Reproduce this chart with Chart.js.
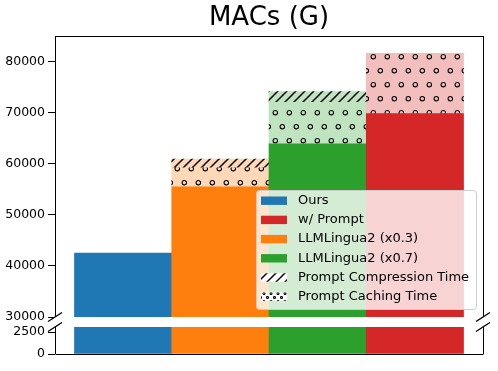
<!DOCTYPE html>
<html>
<head>
<meta charset="utf-8">
<script src="https://cdn.jsdelivr.net/npm/chart.js@4"></script>
<style>
  body { margin: 0; background: #fff; }
  #wrap { position: relative; width: 498px; height: 371px; }
  canvas { position: absolute; left: 0; }
  #top { top: 0; }
  #bottom { top: 322px; }
</style>
</head>
<body>
<div id="wrap">
  <canvas id="top" width="498" height="322"></canvas>
  <canvas id="bottom" width="498" height="49"></canvas>
</div>
<script>
// Data (MACs in G)
const categories = ["Ours", "LLMLingua2 (x0.3)", "LLMLingua2 (x0.7)", "w/ Prompt"];
const baseMacs = [42500, 55500, 63900, 69800];
const cachingMacs = [0, 3700, 8100, 11800];
const compressionMacs = [0, 1700, 2100, 0];
const topTicks = [30000, 40000, 50000, 60000, 70000, 80000];
const bottomTicks = [0, 2500];
const legendOrder = ["Ours", "w/ Prompt", "LLMLingua2 (x0.3)", "LLMLingua2 (x0.7)"];
const compressionLabel = "Prompt Compression Time";
const cachingLabel = "Prompt Caching Time";

const colors = ["#1f77b4", "#ff7f0e", "#2ca02c", "#d62728"];
const lightColors = ["#bcd6e8", "#ffd9b7", "#c0e3c0", "#f3bebe"];
const FONT = "DejaVu Sans";

function makePattern(w, h, bg, draw) {
  const c = document.createElement("canvas");
  c.width = w; c.height = h;
  const g = c.getContext("2d");
  g.fillStyle = bg;
  g.fillRect(0, 0, w, h);
  g.strokeStyle = "#000";
  draw(g, w, h);
  return g.createPattern(c, "repeat");
}

function dots(pts, r) {
  return (g, w, h) => {
    g.lineWidth = 1.1;
    for (const [px, py] of pts)
      for (const ox of [-w, 0, w])
        for (const oy of [-h, 0, h]) {
          g.beginPath();
          g.arc(px + ox, py + oy, r, 0, 2 * Math.PI);
          g.stroke();
        }
  };
}

function slashes(g, w, h) {
  g.lineWidth = 1.5;
  g.beginPath();
  for (const o of [-w, 0, w]) {
    g.moveTo(o - 1, h + 1);
    g.lineTo(o + w + 1, -1);
  }
  g.stroke();
}

const circleFills = lightColors.map(c => makePattern(14, 28, c, dots([[9.3, 0.7], [2.3, 14.7]], 2.2)));
const hatchFills = lightColors.map(c => makePattern(9, 9, c, slashes));
const hatchHandle = makePattern(9, 9, "#fff", slashes);
const dotHandle = makePattern(7, 8, "#fff", dots([[1.5, 1.5], [5, 5.5]], 1));

// zero-height segments are left out so they draw nothing
function points(values) {
  return values.map((v, i) => ({ x: i, y: v })).filter(p => p.y > 0);
}
function fills(values, list) {
  return list.filter((_, i) => values[i] > 0);
}

function datasets() {
  return [
    { label: "base", data: points(baseMacs), backgroundColor: fills(baseMacs, colors) },
    { label: cachingLabel, data: points(cachingMacs), backgroundColor: fills(cachingMacs, circleFills) },
    { label: compressionLabel, data: points(compressionMacs), backgroundColor: fills(compressionMacs, hatchFills) }
  ].map(d => Object.assign(d, { barPercentage: 1, categoryPercentage: 1, borderWidth: 0 }));
}

function xAxis() {
  return {
    type: "linear", min: -0.7, max: 3.7, offset: false, display: false, stacked: true,
    afterBuildTicks: s => { s.ticks = categories.map((_, i) => ({ value: i })); }
  };
}

function yAxis(min, max, ticks) {
  return {
    stacked: true,
    min, max,
    afterFit: s => { s.width = 55; s.paddingTop = 0; s.paddingBottom = 0; },
    afterBuildTicks: s => { s.ticks = ticks.map(v => ({ value: v })); },
    grid: { drawOnChartArea: false, drawTicks: true, tickLength: 7, color: "#000", lineWidth: 1 },
    border: { display: false },
    ticks: { color: "#000", padding: 3, font: { family: FONT, size: 12.5 }, callback: v => String(v) }
  };
}

function spines(sides) {
  return {
    id: "spines",
    afterDraw(chart) {
      const { ctx: g, chartArea: a } = chart;
      g.save();
      g.strokeStyle = "#000";
      g.lineWidth = 1;
      g.beginPath();
      const L = Math.round(a.left) + 0.5, R = Math.round(a.right) + 0.5;
      g.moveTo(L, a.top); g.lineTo(L, a.bottom);
      g.moveTo(R, a.top); g.lineTo(R, a.bottom);
      if (sides === "top") { g.moveTo(L, Math.round(a.top) + 0.5); g.lineTo(R, Math.round(a.top) + 0.5); }
      else { g.moveTo(L, Math.round(a.bottom) + 0.5); g.lineTo(R, Math.round(a.bottom) + 0.5); }
      g.stroke();
      // break marks
      const y = sides === "top" ? a.bottom : a.top;
      g.lineWidth = 1.3;
      g.beginPath();
      for (const x of [a.left, a.right]) {
        g.moveTo(x - 7, y + 4.5);
        g.lineTo(x + 7, y - 4.5);
      }
      g.stroke();
      g.restore();
    }
  };
}

const legendBox = {
  id: "legendBox",
  afterDraw(chart) {
    const { ctx: g, chartArea: a } = chart;
    const w = 220, h = 119;
    const x0 = a.right - 7 - w, y0 = a.bottom - 8 - h;
    g.save();
    g.beginPath();
    g.roundRect(x0 + 0.5, y0 + 0.5, w, h, 3);
    g.fillStyle = "rgba(255,255,255,0.8)";
    g.fill();
    g.strokeStyle = "#cccccc";
    g.lineWidth = 1;
    g.stroke();
    const items = legendOrder.map(n => ({ text: n, fill: colors[categories.indexOf(n)] }));
    items.push({ text: compressionLabel, fill: hatchHandle });
    items.push({ text: cachingLabel, fill: dotHandle });
    g.font = "13px '" + FONT + "'";
    g.textBaseline = "middle";
    items.forEach((it, i) => {
      const cy = y0 + 10.7 + i * 19.2;
      g.fillStyle = it.fill;
      g.fillRect(x0 + 5, cy - 4.2, 26, 8.4);
      g.fillStyle = "#000";
      g.fillText(it.text, x0 + 42, cy);
    });
    g.restore();
  }
};

const common = {
  responsive: false,
  animation: false,
  events: []
};

new Chart(document.getElementById("top"), {
  type: "bar",
  data: { datasets: datasets() },
  options: Object.assign({}, common, {
    layout: { padding: { left: 0, right: 15, top: 0, bottom: 5 } },
    scales: { x: xAxis(), y: yAxis(30000, 85000, topTicks) },
    plugins: {
      legend: { display: false },
      tooltip: { enabled: false },
      title: {
        display: true, text: "MACs (G)", color: "#000", fullSize: false,
        font: { family: FONT, size: 26, weight: "normal" },
        padding: { top: 2.6, bottom: 2.2 }
      }
    }
  }),
  plugins: [spines("top"), legendBox]
});

new Chart(document.getElementById("bottom"), {
  type: "bar",
  data: { datasets: datasets() },
  options: Object.assign({}, common, {
    layout: { padding: { left: 0, right: 15, top: 5, bottom: 17 } },
    scales: { x: xAxis(), y: yAxis(0, 3070, bottomTicks) },
    plugins: { legend: { display: false }, tooltip: { enabled: false } }
  }),
  plugins: [spines("bottom")]
});
</script>
</body>
</html>
